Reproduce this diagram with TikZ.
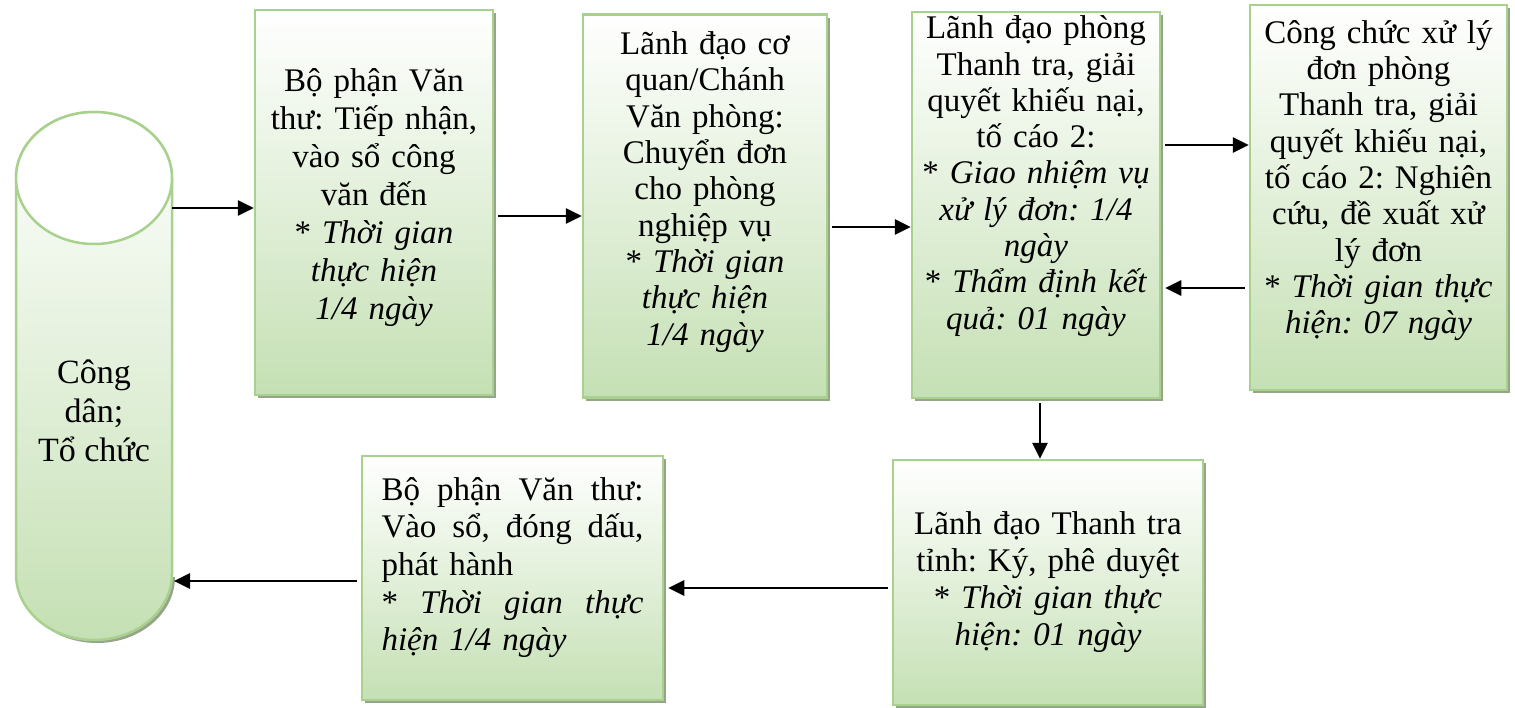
\documentclass[tikz,border=0pt]{standalone}
\usepackage{fontspec}
\setmainfont{Liberation Serif}
\usetikzlibrary{arrows.meta,shadows}
\frenchspacing

\definecolor{boxline}{RGB}{169,209,142}
\definecolor{boxfill}{RGB}{197,224,180}
\definecolor{boxshade}{RGB}{150,165,138}

\tikzset{
  stepbox/.style={draw=boxline, line width=2.5pt, top color=white, bottom color=boxfill,
    drop shadow={shadow xshift=3pt, shadow yshift=-3pt, fill=boxshade, opacity=1}},
  steptext/.style={align=center, font=\fontsize{33}{36.3}\selectfont, inner sep=0pt},
  flow/.style={line width=2.8pt, shorten <=4pt, -{Triangle[length=16pt,width=15pt]}}
}

\begin{document}
\begin{tikzpicture}[x=1pt,y=-1pt]
\useasboundingbox (0,0) rectangle (1515,707);

% citizen cylinder
\fill[boxshade] (19,577) arc[start angle=180,end angle=0,x radius=78,y radius=66] -- cycle;
\shadedraw[top color=white, bottom color=boxfill, draw=boxline, line width=2.5pt]
  (16,178) -- (16,574) arc[start angle=180,end angle=0,x radius=78,y radius=66]
  -- (172,178) arc[start angle=0,end angle=-180,x radius=78,y radius=66] -- cycle;
\filldraw[fill=white, draw=boxline, line width=2.5pt] (94,178) ellipse[x radius=78, y radius=66];
\node[steptext, font=\fontsize{34}{39}\selectfont] (cyl) at (94,411) {Công\\dân;\\Tổ chức};
\coordinate (cylout) at (172,208);
\coordinate (cylin) at (174,581);

% top row
\node[stepbox, minimum width=238, minimum height=385,
  label={[steptext, font=\fontsize{33}{38}\selectfont, text width=226pt, yshift=4.5pt]center:{Bộ phận Văn\\thư: Tiếp nhận,\\vào sổ công\\văn đến\\{*} \textit{Thời gian}\\\textit{thực hiện}\\\textit{1/4 ngày}}}]
  (b1) at (374,202.5) {};
\node[stepbox, minimum width=244, minimum height=383,
  label={[steptext, text width=232pt, yshift=14pt]center:{Lãnh đạo cơ\\quan/Chánh\\Văn phòng:\\Chuyển đơn\\cho phòng\\nghiệp vụ\\{*} \textit{Thời gian}\\\textit{thực hiện}\\\textit{1/4 ngày}}}]
  (b2) at (705,206) {};
\node[stepbox, minimum width=248, minimum height=386,
  label={[steptext, text width=238pt, yshift=29pt]center:{Lãnh đạo phòng\\Thanh tra, giải\\quyết khiếu nại,\\tố cáo 2:\\{*} \textit{Giao nhiệm vụ}\\\textit{xử lý đơn: 1/4}\\\textit{ngày}\\{*} \textit{Thẩm định kết}\\\textit{quả: 01 ngày}}}]
  (b3) at (1036,205) {};
\node[stepbox, minimum width=257, minimum height=385,
  label={[steptext, text width=250pt, yshift=17pt]center:{Công chức xử lý\\đơn phòng\\Thanh tra, giải\\quyết khiếu nại,\\tố cáo 2: Nghiên\\cứu, đề xuất xử\\lý đơn\\{*} \textit{Thời gian thực}\\\textit{hiện: 07 ngày}}}]
  (b4) at (1378.5,197.5) {};

% bottom row
\node[stepbox, minimum width=310, minimum height=245,
  label={[steptext, font=\fontsize{33}{37}\selectfont, text width=298pt]center:{Lãnh đạo Thanh tra\\tỉnh: Ký, phê duyệt\\{*} \textit{Thời gian thực}\\\textit{hiện: 01 ngày}}}]
  (b5) at (1048,582.5) {};
\node[stepbox, minimum width=301, minimum height=244,
  label={[steptext, align=left, font=\fontsize{33}{37.7}\selectfont, text width=262pt, yshift=10.5pt]center:{Bộ\hfill phận\hfill Văn\hfill thư:\\Vào\hfill sổ,\hfill đóng\hfill dấu,\\phát hành\\{*}\hfill\textit{Thời}\hfill\textit{gian}\hfill\textit{thực}\\\textit{hiện 1/4 ngày}}}]
  (b6) at (512.5,578) {};

% connectors
\draw[flow, shorten <=0pt] (cylout) -- (b1.west |- cylout);
\draw[flow] (b1.east |- 0,216) -- (b2.west |- 0,216);
\draw[flow] (b2.east |- 0,227) -- (b3.west |- 0,227);
\draw[flow] (b3.east |- 0,145) -- (b4.west |- 0,145);
\draw[flow, shorten >=4pt] (b4.west |- 0,288) -- (b3.east |- 0,288);
\draw[flow] (1040,0 |- b3.south) -- (1040,0 |- b5.north);
\draw[flow, shorten >=4pt] (b5.west |- 0,588) -- (b6.east |- 0,588);
\draw[flow] (b6.west |- cylin) -- (cylin);
\end{tikzpicture}
\end{document}
